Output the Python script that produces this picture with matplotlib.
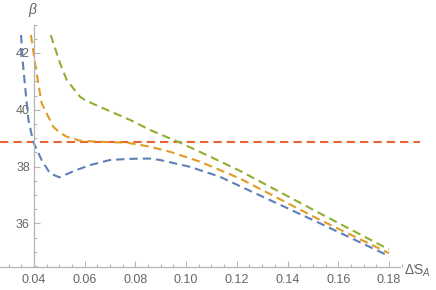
import numpy as np
import matplotlib
matplotlib.use("Agg")
import matplotlib.pyplot as plt
from matplotlib.ticker import MultipleLocator, FormatStrFormatter

plt.rcParams['font.family'] = ['Liberation Sans', 'DejaVu Sans']
plt.rcParams['mathtext.fontset'] = 'custom'
plt.rcParams['mathtext.rm'] = 'Liberation Sans'
plt.rcParams['mathtext.it'] = 'Liberation Sans:italic'

# valeurs
x_bleu = [0.0349, 0.0355, 0.0365, 0.0378, 0.0397, 0.0430, 0.0463, 0.0500,
          0.0560, 0.0621, 0.0700, 0.0780, 0.0857, 0.0897, 0.1015, 0.1133,
          0.1212, 0.1528, 0.1800]
y_bleu = [42.63, 41.75, 40.81, 39.64, 38.87, 38.23, 37.76, 37.62,
          37.85, 38.05, 38.23, 38.27, 38.28, 38.23, 37.99, 37.64,
          37.31, 36.00, 34.85]

x_orange = [0.0388, 0.0404, 0.0430, 0.0476, 0.0503, 0.0529, 0.0581, 0.0660,
            0.0766, 0.0857, 0.0936, 0.1055, 0.1212, 0.1528, 0.1800]
y_orange = [42.63, 41.63, 40.23, 39.40, 39.18, 39.05, 38.91, 38.87,
            38.84, 38.70, 38.52, 38.17, 37.58, 36.12, 34.95]

x_vert = [0.0466, 0.0503, 0.0529, 0.0581, 0.0601, 0.0660, 0.0779, 0.0857,
          0.0976, 0.1094, 0.1212, 0.1528, 0.1800]
y_vert = [42.63, 41.63, 41.05, 40.46, 40.34, 40.10, 39.64, 39.29,
          38.84, 38.35, 37.85, 36.35, 35.08]

niveau_rouge = 38.87

x_ticks = [0.04, 0.06, 0.08, 0.10, 0.12, 0.14, 0.16, 0.18]
y_ticks = [36, 38, 40, 42]

gris_axe = '#b4b4b4'
gris_txt = '#666666'
tirets = (0, (4, 2.4))

fig = plt.figure(figsize=(4.36, 2.90), dpi=100)
ax = fig.add_axes([0.0, 0.0803, 0.963, 0.8404])

ax.axhline(niveau_rouge, color='#EB6235', lw=1.5, ls=tirets)
ax.plot(x_bleu, y_bleu, color='#5E81B5', lw=1.5, ls=tirets)
ax.plot(x_orange, y_orange, color='#E19C24', lw=1.5, ls=tirets)
ax.plot(x_vert, y_vert, color='#8FB032', lw=1.5, ls=tirets)

ax.set_xlim(0.02659, 0.19221)
ax.set_ylim(34.472, 43.053)

for s in ['top', 'right']:
    ax.spines[s].set_visible(False)
ax.spines['left'].set_position(('data', 0.04))
ax.spines['left'].set_bounds(34.472, 43.0)
ax.spines['bottom'].set_bounds(0.02659, 0.1843)
for s in ['left', 'bottom']:
    ax.spines[s].set_color(gris_axe)
    ax.spines[s].set_linewidth(0.9)

ax.set_xticks(x_ticks)
ax.set_yticks(y_ticks)
ax.xaxis.set_major_formatter(FormatStrFormatter('%.2f'))
ax.xaxis.set_minor_locator(MultipleLocator(0.005))
ax.yaxis.set_minor_locator(MultipleLocator(0.5))
ax.tick_params(which='both', direction='in', color=gris_axe, width=0.8,
               labelcolor=gris_txt, labelsize=9)
ax.tick_params(which='major', length=4)
ax.tick_params(which='minor', length=2.5)
ax.tick_params(axis='x', pad=5)
ax.tick_params(axis='y', pad=3)

fig.text(33 / 436, 1 - 10 / 290, r'$\beta$', color=gris_txt, fontsize=10,
         ha='center', va='center')
fig.text(404 / 436, 1 - 271 / 290, r'$\mathrm{\Delta S}_{A}$', color=gris_txt,
         fontsize=10, ha='left', va='center')

fig.savefig('out.png', dpi=100)
